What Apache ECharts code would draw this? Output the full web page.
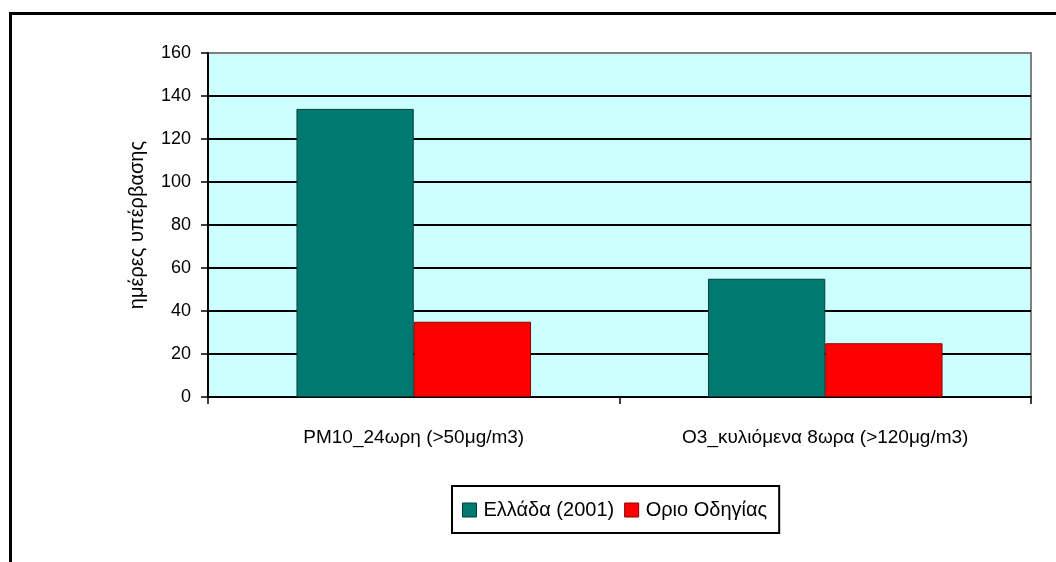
<!DOCTYPE html>
<html>
<head>
<meta charset="utf-8">
<script src="https://cdn.jsdelivr.net/npm/echarts@6/dist/echarts.min.js"></script>
<style>
html,body{margin:0;padding:0;background:#fff;}
#chart{width:1056px;height:562px;}
</style>
</head>
<body>
<div id="chart"></div>
<script>
const categories = ['PM10_24ωρη (>50μg/m3)', 'O3_κυλιόμενα 8ωρα (>120μg/m3)'];
const seriesNames = ['Ελλάδα (2001)', 'Οριο Οδηγίας'];
const greeceValues = [134, 55];
const limitValues = [35, 25];
const yTicks = [0, 20, 40, 60, 80, 100, 120, 140, 160];

const FONT = '"Liberation Sans", Arial, sans-serif';
const chart = echarts.init(document.getElementById('chart'), null, {renderer: 'canvas'});
chart.setOption({
  animation: false,
  backgroundColor: '#ffffff',
  textStyle: {fontFamily: FONT},
  graphic: [{
    type: 'rect',
    shape: {x: 10.5, y: 13.5, width: 1100, height: 600},
    style: {fill: 'none', stroke: '#000', lineWidth: 3},
    silent: true, z: 100
  }],
  grid: {
    left: 208, right: 25, top: 53, bottom: 165,
    show: true, backgroundColor: '#ccffff', borderColor: '#808080', borderWidth: 2
  },
  legend: {
    data: seriesNames,
    left: 452, top: 486,
    orient: 'horizontal',
    borderColor: '#000', borderWidth: 2,
    padding: [14, 12, 13, 10],
    itemWidth: 14, itemHeight: 14, itemGap: 10,
    icon: 'rect',
    itemStyle: {borderWidth: 1},
    textStyle: {fontFamily: FONT, fontSize: 20, lineHeight: 20, color: '#000', padding: [0, 0, 0, 2]}
  },
  xAxis: {
    type: 'category',
    data: categories,
    axisLine: {lineStyle: {color: '#000', width: 2}},
    axisTick: {show: true, length: 7, lineStyle: {color: '#000', width: 1.5}},
    axisLabel: {fontFamily: FONT, fontSize: 19, color: '#000', margin: 31, interval: 0}
  },
  yAxis: {
    type: 'value',
    min: yTicks[0], max: yTicks[yTicks.length - 1], interval: 20,
    name: 'ημέρες υπέρβασης',
    nameLocation: 'middle',
    nameGap: 61,
    nameRotate: 90,
    nameTextStyle: {fontFamily: FONT, fontSize: 20, color: '#000'},
    axisLine: {show: true, lineStyle: {color: '#000', width: 2}},
    axisTick: {show: true, length: 7, lineStyle: {color: '#000', width: 1.5}},
    axisLabel: {fontFamily: FONT, fontSize: 18, color: '#000', margin: 17},
    splitLine: {show: true, lineStyle: {color: ['#000','#000','#000','#000','#000','#000','#000','#000','#808080'], width: 2}}
  },
  series: [
    {
      name: seriesNames[0], type: 'bar', data: greeceValues,
      barGap: '0%', barCategoryGap: '43%',
      itemStyle: {color: '#007a70', borderColor: '#00403a', borderWidth: 1}
    },
    {
      name: seriesNames[1], type: 'bar', data: limitValues,
      itemStyle: {color: '#ff0000', borderColor: '#8a0000', borderWidth: 1}
    }
  ]
});
</script>
</body>
</html>
